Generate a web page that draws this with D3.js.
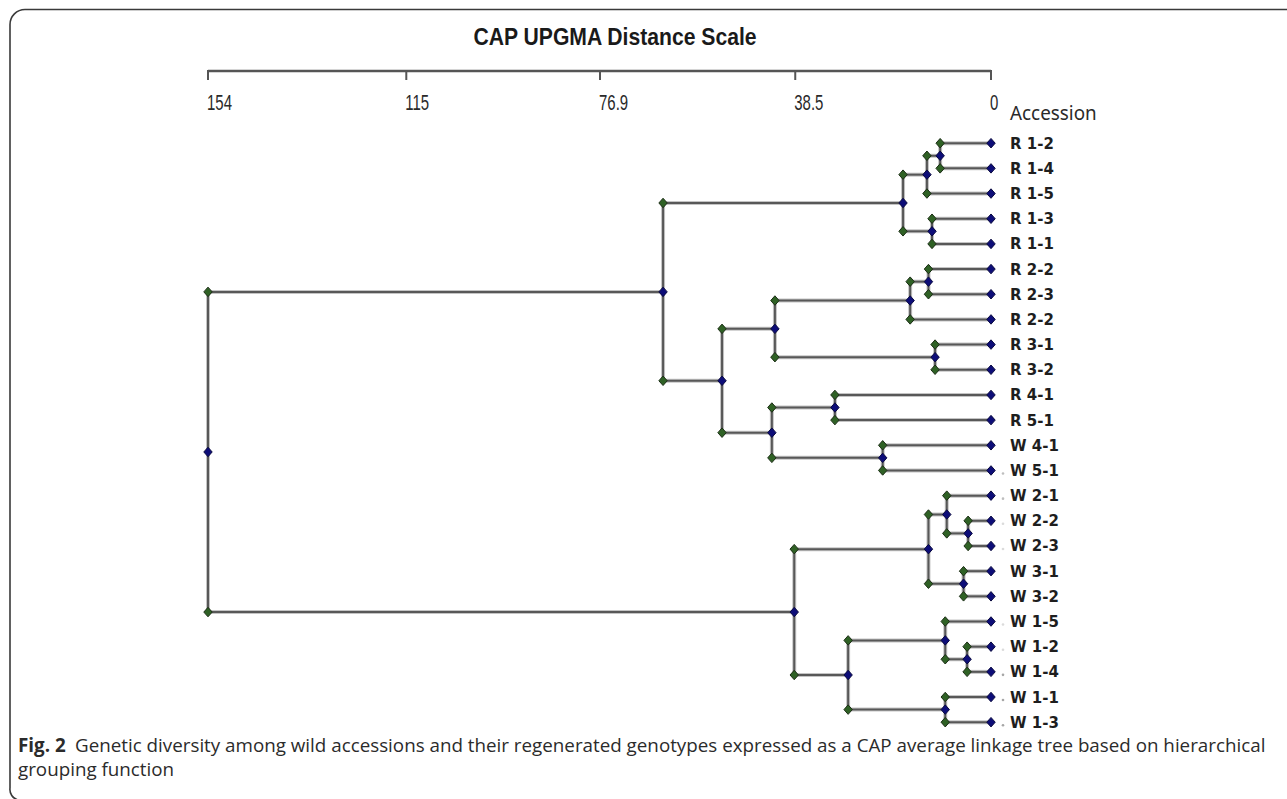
<!DOCTYPE html>
<html>
<head>
<meta charset="utf-8">
<script src="https://cdn.jsdelivr.net/npm/d3@7"></script>
<style>
  html, body { margin: 0; padding: 0; background: #fff; }
  svg { display: block; }
</style>
</head>
<body>
<svg id="chart" width="1287" height="799"></svg>
<script>
// Accessions, listed top to bottom in dendrogram order
const leafLabels = [
  "R 1-2", "R 1-4", "R 1-5", "R 1-3", "R 1-1",
  "R 2-2", "R 2-3", "R 2-2", "R 3-1", "R 3-2",
  "R 4-1", "R 5-1", "W 4-1", "W 5-1",
  "W 2-1", "W 2-2", "W 2-3", "W 3-1", "W 3-2",
  "W 1-5", "W 1-2", "W 1-4", "W 1-1", "W 1-3"
];

// Linkage steps: [child A, child B, UPGMA distance]; new cluster ids start at 24
const mergeLeft = [15, 20, 17, 14, 19, 22, 0, 8, 3, 27, 5, 30, 34, 35, 12, 28, 10, 36, 40, 41, 33, 37, 45];
const mergeRight = [16, 21, 18, 24, 25, 23, 1, 9, 4, 26, 6, 2, 7, 32, 13, 29, 11, 31, 38, 42, 39, 43, 44];
const mergeDistance = [4.5, 4.7, 5.4, 8.7, 9.0, 9.0, 10.0, 11.0, 11.6, 12.3, 12.3, 12.6, 15.9, 17.3, 21.3, 28.1, 30.7, 42.5, 43.1, 52.9, 38.7, 64.5, 154];

// Distance scale ticks
const axisTicks = [154, 115, 76.9, 38.5, 0];
const axisTickLabels = ["154", "115", "76.9", "38.5", "0"];

// Leaves that carry a faint trailing mark before the name
const dottedLeaves = ["W 5-1", "W 2-1", "W 2-2", "W 2-3", "W 1-5", "W 1-2", "W 1-4", "W 1-1", "W 1-3"];
const dotShade = [0.55, 0.55, 0.3, 0.3, 0.3, 0.3, 0.75, 0.75, 0.75];

const svg = d3.select("#chart");

// Panel frame (open on the right, rounded at the left corners)
svg.append("path")
  .attr("d", "M1290,9.5 H25 A15,15 0 0 0 10,24.5 V788 A11,11 0 0 0 18,800")
  .attr("fill", "none")
  .attr("stroke", "#3a3a3a")
  .attr("stroke-width", 1.6);

const x = d3.scaleLinear().domain([154, 0]).range([208, 991]);
const y = d3.scalePoint().domain(d3.range(leafLabels.length)).range([143.2, 722.2]);

// Build node table
const nodes = leafLabels.map((name, i) => ({ id: i, name, h: 0, y: y(i), leaf: true }));
mergeLeft.forEach((a, k) => {
  const b = mergeRight[k];
  const na = nodes[a], nb = nodes[b];
  const node = { id: nodes.length, h: mergeDistance[k], y: (na.y + nb.y) / 2, leaf: false, children: [na, nb] };
  na.parent = node; nb.parent = node;
  nodes.push(node);
});

const narrowFont = "'Liberation Sans Narrow', 'Liberation Sans', Arial, sans-serif";

// Title (condensed bold)
svg.append("text")
  .attr("transform", "translate(615,45) scale(0.9,1)")
  .attr("text-anchor", "middle")
  .attr("font-family", narrowFont)
  .attr("font-weight", "bold")
  .attr("font-size", 23.5)
  .attr("fill", "#1a1a1a")
  .text("CAP UPGMA Distance Scale");

// Distance axis at top
const axisG = svg.append("g").attr("transform", "translate(0,71)");
axisG.append("line")
  .attr("x1", x(154)).attr("x2", x(0))
  .attr("stroke", "#555").attr("stroke-width", 2.4);
axisG.selectAll("line.tick").data(axisTicks).join("line")
  .attr("class", "tick")
  .attr("x1", d => x(d)).attr("x2", d => x(d))
  .attr("y1", -1).attr("y2", 9)
  .attr("stroke", "#555").attr("stroke-width", 2);
axisG.selectAll("text.tl").data(axisTicks).join("text")
  .attr("class", "tl")
  .attr("transform", d => `translate(${x(d) - 1},39) scale(0.68,1)`)
  .attr("font-family", narrowFont)
  .attr("font-size", 22)
  .attr("fill", "#2a2a2a")
  .text((d, i) => axisTickLabels[i]);

svg.append("text")
  .attr("transform", "translate(1010,120) scale(0.92,1)")
  .attr("font-family", "'Noto Sans', 'Open Sans', sans-serif")
  .attr("font-size", 20.5)
  .attr("fill", "#2a2a2a")
  .text("Accession");

// Branches: soft halo, then the dark line
const segs = [];
nodes.filter(n => !n.leaf).forEach(n => {
  const [a, b] = n.children;
  segs.push([x(n.h), a.y, x(n.h), b.y]);
  n.children.forEach(c => segs.push([x(n.h), c.y, x(c.h), c.y]));
});
const branchG = svg.append("g");
branchG.selectAll("line.halo").data(segs).join("line")
  .attr("class", "halo")
  .attr("x1", d => d[0]).attr("y1", d => d[1]).attr("x2", d => d[2]).attr("y2", d => d[3])
  .attr("stroke", "#c4c4c4").attr("stroke-width", 4).attr("stroke-linecap", "square");
branchG.selectAll("line.core").data(segs).join("line")
  .attr("class", "core")
  .attr("x1", d => d[0]).attr("y1", d => d[1]).attr("x2", d => d[2]).attr("y2", d => d[3])
  .attr("stroke", "#585858").attr("stroke-width", 2).attr("stroke-linecap", "square");

// Diamond marker
const diamond = {
  draw(ctx, size) {
    const w = Math.sqrt(size) * 0.62, hgt = Math.sqrt(size) * 0.7;
    ctx.moveTo(0, -hgt); ctx.lineTo(w, 0); ctx.lineTo(0, hgt); ctx.lineTo(-w, 0); ctx.closePath();
  }
};
const sym = d3.symbol().type(diamond).size(46);

// Green markers where each child joins its parent
const joins = nodes.filter(n => n.parent).map(n => ({ x: x(n.parent.h), y: n.y }));
svg.append("g").selectAll("path").data(joins).join("path")
  .attr("d", sym)
  .attr("transform", d => `translate(${d.x},${d.y})`)
  .attr("fill", "#2f6125").attr("stroke", "#1c2e16").attr("stroke-width", 1);

// Navy markers on every node position
svg.append("g").selectAll("path").data(nodes).join("path")
  .attr("d", sym)
  .attr("transform", d => `translate(${x(d.h)},${d.y})`)
  .attr("fill", "#0d0d78").attr("stroke", "#0a0a40").attr("stroke-width", 1);

// Faint marks before some names
const leafNodes = nodes.filter(n => n.leaf);
svg.append("g").selectAll("circle")
  .data(leafNodes.filter(n => dottedLeaves.includes(n.name)))
  .join("circle")
  .attr("cx", 1003).attr("cy", d => d.y + 3)
  .attr("r", 1.3)
  .attr("fill", "#888")
  .attr("opacity", d => dotShade[dottedLeaves.indexOf(d.name)]);

// Accession names
svg.append("g").selectAll("text").data(leafNodes).join("text")
  .attr("x", 1010).attr("y", d => d.y + 5.5)
  .attr("font-family", "'DejaVu Sans', Verdana, sans-serif")
  .attr("font-weight", "bold")
  .attr("font-size", 15)
  .attr("fill", "#1e1e1e")
  .text(d => d.name);

// Caption
const cap = svg.append("g")
  .attr("font-family", "'Open Sans', 'Noto Sans', sans-serif")
  .attr("font-size", 18.8)
  .attr("fill", "#2b2b2b");
const line1 = cap.append("text").attr("x", 18).attr("y", 752);
line1.append("tspan").attr("font-weight", "bold").text("Fig. 2");
line1.append("tspan").text("\u2002Genetic diversity among wild accessions and their regenerated genotypes expressed as a CAP average linkage tree based on hierarchical");
cap.append("text").attr("x", 18).attr("y", 776).text("grouping function");
</script>
</body>
</html>
